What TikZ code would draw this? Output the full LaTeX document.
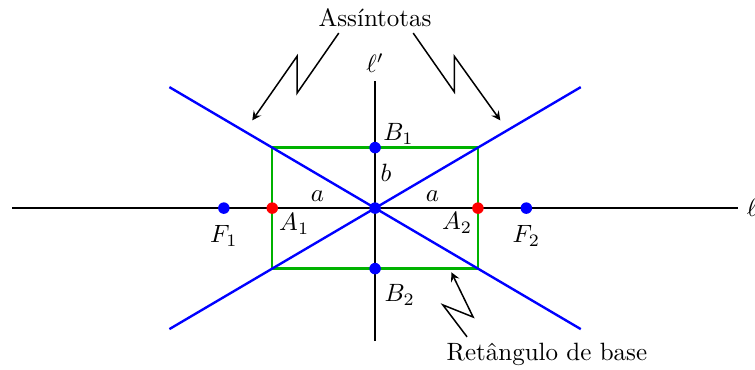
\documentclass[tikz,border=0pt]{standalone}
\usepackage{tikz}
\usetikzlibrary{arrows.meta, positioning}

\begin{document}
\begin{tikzpicture}[x=0.85cm, y=0.85cm]
	\tikzstyle{eixo} = [line width=1pt, black]
	\tikzstyle{assintota} = [line width=0.95pt, blue]
	\tikzstyle{retangulo} = [line width=0.95pt, green!70!black]
	\tikzstyle{ponto} = [circle, inner sep=0pt, minimum size=4.6pt]
	\tikzstyle{arrow}  = [semithick, ->, >=stealth]

	\useasboundingbox (-6.2,-2.66) rectangle (6.28,3.44);

	% eixos
	\coordinate (xl) at (-6,0);
	\coordinate (xr) at (6,0);
	\coordinate (yt) at (0,2.1);
	\coordinate (yb) at (0,-2.2);
	\draw[eixo] (xl) to (xr);
	\draw[eixo] (yb) to (yt);
	\node[right=0pt of xr](ell){$\ell$};
	\node[above=0pt of yt](ellp){$\ell'$};

	% retangulo de base
	\coordinate (r1) at (-1.7,-1);
	\coordinate (r2) at (1.7,1);
	\draw[retangulo] (r1) rectangle (r2);

	% assintotas
	\coordinate (as1) at (-3.4,2);
	\coordinate (as2) at (3.4,-2);
	\coordinate (as3) at (-3.4,-2);
	\coordinate (as4) at (3.4,2);
	\draw[assintota] (as1) to (as2);
	\draw[assintota] (as3) to (as4);

	% pontos
	\node[ponto, fill=blue](f1) at (-2.5,0){};
	\node[ponto, fill=blue](f2) at (2.5,0){};
	\node[ponto, fill=red](a1) at (-1.7,0){};
	\node[ponto, fill=red](a2) at (1.7,0){};
	\node[ponto, fill=blue](b1) at (0,1){};
	\node[ponto, fill=blue](b2) at (0,-1){};
	\node[ponto, fill=blue](o) at (0,0){};

	\node[below=1pt of f1](lf1){$F_1$};
	\node[below=1pt of f2](lf2){$F_2$};
	\node[below right=-3pt and -2.5pt of a1](la1){$A_1$};
	\node[below left=-3.5pt and -3pt of a2](la2){$A_2$};
	\node[above right=-4pt and -2pt of b1](lb1){$B_1$};
	\node[below right=1pt and -1.5pt of b2](lb2){$B_2$};
	\node(sa1) at (-0.95,0.2){$a$};
	\node(sa2) at (0.95,0.2){$a$};
	\node(sb) at (0.18,0.58){$b$};

	% legendas
	\node(assint) at (0,3.14){Assíntotas};
	\coordinate (tip1) at (-2.03,1.45);
	\coordinate (tip2) at (2.07,1.45);
	\draw[arrow] ([shift={(-0.6,0.05)}]assint.south) -- (-1.29,1.9) -- (-1.29,2.51) -- (tip1);
	\draw[arrow] ([shift={(0.63,0.05)}]assint.south) -- (1.31,1.92) -- (1.31,2.51) -- (tip2);

	\node(ret) at (2.84,-2.41){Retângulo de base};
	\coordinate (tip3) at (1.26,-1.06);
	\draw[arrow] ([shift={(-1.32,-0.05)}]ret.north) -- (1.12,-1.6) -- (1.62,-1.8) -- (tip3);

\end{tikzpicture}
\end{document}
